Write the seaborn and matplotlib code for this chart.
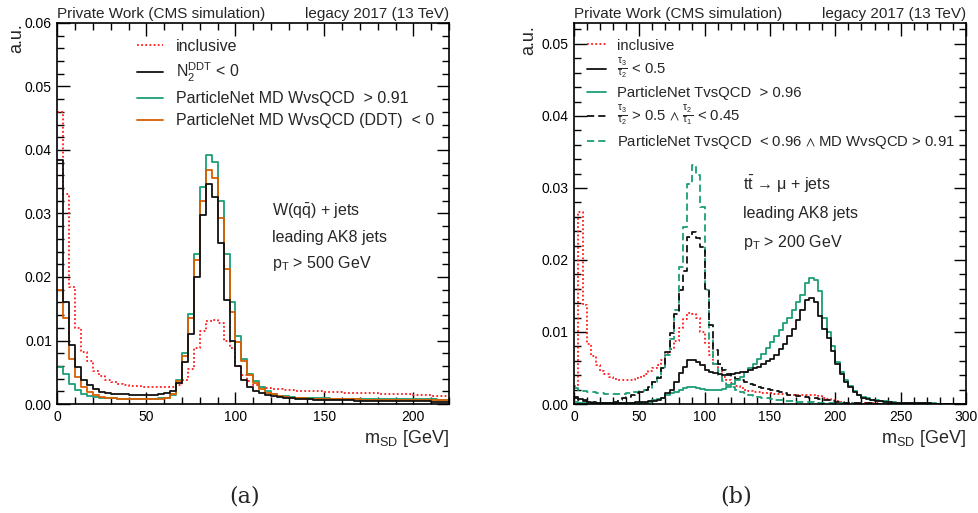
import numpy as np
import pandas as pd
import matplotlib
matplotlib.use("Agg")
import matplotlib.pyplot as plt
import seaborn as sns
from matplotlib.ticker import MultipleLocator, FormatStrFormatter

# ---------------- data (normalised bin contents, units of 1e-2) ----------------
# panel (a): W(qq) + jets, 66 bins of 10/3 GeV from 0 to 220 GeV
inclusive_a = [4.60, 3.30, 1.85, 1.20, 0.82, 0.68, 0.52, 0.44, 0.38, 0.34,
               0.32, 0.30, 0.29, 0.28, 0.27, 0.27, 0.26, 0.26, 0.26, 0.27,
               0.30, 0.38, 0.55, 0.88, 1.15, 1.30, 1.33, 1.28, 1.00, 0.88,
               0.60, 0.45, 0.36, 0.30, 0.27, 0.25, 0.24, 0.23, 0.22, 0.22,
               0.21, 0.21, 0.20, 0.20, 0.20, 0.19, 0.19, 0.19, 0.18, 0.18,
               0.18, 0.17, 0.17, 0.17, 0.16, 0.16, 0.16, 0.15, 0.15, 0.15,
               0.14, 0.14, 0.14, 0.13, 0.13, 0.13]
n2ddt_a = [3.84, 1.60, 0.93, 0.58, 0.38, 0.30, 0.23, 0.19, 0.17, 0.16,
           0.15, 0.15, 0.14, 0.14, 0.14, 0.14, 0.14, 0.15, 0.17, 0.21,
           0.33, 0.66, 1.10, 2.00, 2.97, 3.47, 3.26, 2.53, 1.64, 1.00,
           0.60, 0.38, 0.27, 0.21, 0.17, 0.14, 0.12, 0.11, 0.10, 0.09,
           0.085, 0.08, 0.075, 0.07, 0.07, 0.065, 0.065, 0.06, 0.06, 0.06,
           0.055, 0.055, 0.05, 0.05, 0.05, 0.05, 0.045, 0.045, 0.045, 0.04,
           0.04, 0.04, 0.04, 0.035, 0.035, 0.035]
pnmd_a = [0.58, 0.48, 0.32, 0.22, 0.16, 0.13, 0.11, 0.10, 0.09, 0.09,
          0.085, 0.08, 0.08, 0.08, 0.08, 0.08, 0.085, 0.09, 0.10, 0.14,
          0.38, 0.80, 1.42, 2.37, 3.41, 3.92, 3.81, 3.20, 2.36, 1.60,
          1.07, 0.71, 0.48, 0.36, 0.26, 0.20, 0.16, 0.13, 0.12, 0.11,
          0.10, 0.095, 0.09, 0.09, 0.09, 0.088, 0.086, 0.085, 0.084, 0.083,
          0.082, 0.081, 0.08, 0.08, 0.079, 0.078, 0.077, 0.076, 0.075, 0.075,
          0.074, 0.073, 0.072, 0.071, 0.07, 0.07]
pnddt_a = [1.79, 1.36, 0.71, 0.42, 0.27, 0.19, 0.14, 0.11, 0.10, 0.09,
           0.085, 0.08, 0.08, 0.075, 0.075, 0.075, 0.08, 0.085, 0.10, 0.16,
           0.36, 0.75, 1.35, 2.26, 3.20, 3.68, 3.56, 2.93, 2.13, 1.45,
           0.97, 0.67, 0.45, 0.33, 0.24, 0.18, 0.15, 0.13, 0.11, 0.10,
           0.095, 0.09, 0.085, 0.085, 0.08, 0.08, 0.078, 0.076, 0.075, 0.074,
           0.072, 0.07, 0.07, 0.068, 0.067, 0.066, 0.065, 0.064, 0.063, 0.062,
           0.061, 0.06, 0.06, 0.059, 0.058, 0.057]

# panel (b): ttbar -> mu + jets, 90 bins of 10/3 GeV from 0 to 300 GeV
inclusive_b = [0.25, 2.67, 1.37, 0.84, 0.66, 0.54, 0.46, 0.41, 0.37, 0.35,
               0.34, 0.33, 0.33, 0.34, 0.36, 0.38, 0.42, 0.46, 0.50, 0.54,
               0.61, 0.70, 0.77, 0.87, 1.05, 1.18, 1.26, 1.25, 1.20, 1.00,
               0.85, 0.68, 0.55, 0.46, 0.38, 0.33, 0.29, 0.25, 0.22, 0.20,
               0.18, 0.17, 0.16, 0.155, 0.15, 0.15, 0.145, 0.14, 0.135, 0.13,
               0.125, 0.12, 0.12, 0.125, 0.125, 0.12, 0.11, 0.09, 0.07, 0.05,
               0.04, 0.03, 0.02, 0.015, 0.012, 0.01, 0.01, 0.008, 0.008, 0.007,
               0.006, 0.006, 0.005, 0.005, 0.005, 0.004, 0.004, 0.004, 0.003, 0.003,
               0.003, 0.003, 0.002, 0.002, 0.002, 0.002, 0.002, 0.002, 0.001, 0.001]
tau32_b = [0.10, 0.07, 0.05, 0.03, 0.02, 0.015, 0.012, 0.01, 0.01, 0.01,
           0.012, 0.013, 0.015, 0.018, 0.022, 0.025, 0.03, 0.035, 0.045, 0.06,
           0.08, 0.15, 0.20, 0.30, 0.43, 0.52, 0.61, 0.61, 0.59, 0.54,
           0.47, 0.44, 0.43, 0.41, 0.40, 0.40, 0.42, 0.43, 0.44, 0.45,
           0.47, 0.50, 0.52, 0.56, 0.60, 0.63, 0.68, 0.76, 0.84, 0.94,
           1.04, 1.17, 1.31, 1.44, 1.47, 1.42, 1.22, 1.04, 0.92, 0.74,
           0.55, 0.42, 0.31, 0.23, 0.16, 0.12, 0.09, 0.07, 0.05, 0.04,
           0.035, 0.03, 0.025, 0.02, 0.018, 0.015, 0.013, 0.012, 0.01, 0.009,
           0.008, 0.007, 0.006, 0.006, 0.005, 0.005, 0.004, 0.004, 0.003, 0.003]
pntop_b = [0.03, 0.02, 0.015, 0.01, 0.008, 0.008, 0.008, 0.008, 0.008, 0.008,
           0.008, 0.008, 0.008, 0.008, 0.01, 0.012, 0.02, 0.03, 0.05, 0.07,
           0.09, 0.12, 0.15, 0.17, 0.20, 0.22, 0.23, 0.23, 0.22, 0.21,
           0.20, 0.19, 0.19, 0.19, 0.21, 0.24, 0.28, 0.33, 0.38, 0.44,
           0.50, 0.56, 0.63, 0.70, 0.78, 0.86, 0.94, 1.03, 1.12, 1.20,
           1.31, 1.42, 1.51, 1.68, 1.75, 1.72, 1.57, 1.20, 1.00, 0.80,
           0.58, 0.45, 0.33, 0.25, 0.18, 0.13, 0.10, 0.08, 0.06, 0.05,
           0.04, 0.035, 0.03, 0.025, 0.02, 0.018, 0.015, 0.013, 0.012, 0.01,
           0.009, 0.008, 0.007, 0.006, 0.006, 0.005, 0.005, 0.004, 0.004, 0.003]
tau21_b = [0.08, 0.06, 0.04, 0.03, 0.025, 0.02, 0.02, 0.02, 0.025, 0.03,
           0.06, 0.08, 0.10, 0.12, 0.15, 0.17, 0.20, 0.24, 0.30, 0.36,
           0.50, 0.72, 0.98, 1.25, 1.58, 1.85, 2.32, 2.39, 2.30, 2.18,
           1.60, 1.10, 0.75, 0.55, 0.47, 0.42, 0.38, 0.35, 0.33, 0.30,
           0.28, 0.26, 0.24, 0.22, 0.21, 0.19, 0.18, 0.16, 0.15, 0.13,
           0.12, 0.11, 0.105, 0.10, 0.09, 0.08, 0.07, 0.06, 0.05, 0.04,
           0.03, 0.025, 0.02, 0.015, 0.012, 0.01, 0.009, 0.008, 0.007, 0.006,
           0.005, 0.005, 0.004, 0.004, 0.004, 0.003, 0.003, 0.003, 0.003, 0.002,
           0.002, 0.002, 0.002, 0.002, 0.001, 0.001, 0.001, 0.001, 0.001, 0.001]
pnw_b = [0.22, 0.20, 0.18, 0.17, 0.16, 0.15, 0.15, 0.14, 0.14, 0.14,
         0.14, 0.14, 0.15, 0.16, 0.17, 0.18, 0.20, 0.22, 0.30, 0.38,
         0.50, 0.68, 0.90, 1.30, 1.90, 2.46, 3.06, 3.32, 3.18, 2.74,
         1.58, 0.90, 0.55, 0.40, 0.32, 0.26, 0.23, 0.20, 0.17, 0.15,
         0.13, 0.115, 0.10, 0.09, 0.08, 0.07, 0.062, 0.055, 0.048, 0.042,
         0.038, 0.034, 0.03, 0.028, 0.026, 0.024, 0.02, 0.018, 0.015, 0.012,
         0.01, 0.009, 0.008, 0.007, 0.006, 0.006, 0.005, 0.005, 0.004, 0.004,
         0.004, 0.003, 0.003, 0.003, 0.003, 0.002, 0.002, 0.002, 0.002, 0.002,
         0.002, 0.001, 0.001, 0.001, 0.001, 0.001, 0.001, 0.001, 0.001, 0.001]

labels_a = ["inclusive", r"N$_2^{DDT}$ < 0", "ParticleNet MD WvsQCD  > 0.91",
            "ParticleNet MD WvsQCD (DDT)  < 0"]
labels_b = ["inclusive", r"$\frac{\tau_3}{\tau_2}$ < 0.5", "ParticleNet TvsQCD  > 0.96",
            r"$\frac{\tau_3}{\tau_2}$ > 0.5 $\wedge$ $\frac{\tau_2}{\tau_1}$ < 0.45",
            r"ParticleNet TvsQCD  < 0.96 $\wedge$ MD WvsQCD > 0.91"]

# ---------------- style ----------------
sns.set_style("ticks")
plt.rcParams["font.family"] = ["Liberation Sans", "DejaVu Sans"]
plt.rcParams["mathtext.fontset"] = "custom"
plt.rcParams["mathtext.rm"] = "Liberation Sans"
plt.rcParams["mathtext.it"] = "Liberation Sans:italic"
plt.rcParams["mathtext.bf"] = "Liberation Sans:bold"
plt.rcParams["mathtext.sf"] = "Liberation Sans"
plt.rcParams["mathtext.default"] = "regular"
plt.rcParams["mathtext.fallback"] = "stixsans"

RED = "#ff1a1a"
GREEN = "#1b9e77"
ORANGE = "#d95f02"
BLACK = "#111111"
DOT = (0, (1.0, 1.3))
DASH = (0, (4.0, 2.2))
LW = 1.3

fig = plt.figure(figsize=(9.79, 5.13), dpi=100)
ax_a = fig.add_axes([57.5 / 979, 109 / 513, 391.5 / 979, 381 / 513])
ax_b = fig.add_axes([574 / 979, 109 / 513, 392 / 979, 381 / 513])


def draw(ax, edges, vals, color, ls, label):
    # step outline of a histogram: value of each bin held over [edge_i, edge_i+1)
    y = np.append(np.asarray(vals, dtype=float), vals[-1]) * 1e-2
    df = pd.DataFrame({"m": edges, "w": y})
    sns.lineplot(data=df, x="m", y="w", drawstyle="steps-post", color=color,
                 linestyle=ls, linewidth=LW, ax=ax, estimator=None, sort=False,
                 label=label, legend=False)
    return ax.get_lines()[-1]


edges_a = np.linspace(0, 220, len(inclusive_a) + 1)
edges_b = np.linspace(0, 300, len(inclusive_b) + 1)

h_a = [draw(ax_a, edges_a, inclusive_a, RED, DOT, labels_a[0]),
       draw(ax_a, edges_a, pnmd_a, GREEN, "-", labels_a[2]),
       draw(ax_a, edges_a, pnddt_a, ORANGE, "-", labels_a[3]),
       draw(ax_a, edges_a, n2ddt_a, BLACK, "-", labels_a[1])]
handles_a = [h_a[0], h_a[3], h_a[1], h_a[2]]

h_b = [draw(ax_b, edges_b, inclusive_b, RED, DOT, labels_b[0]),
       draw(ax_b, edges_b, pnw_b, GREEN, DASH, labels_b[4]),
       draw(ax_b, edges_b, tau21_b, BLACK, DASH, labels_b[3]),
       draw(ax_b, edges_b, pntop_b, GREEN, "-", labels_b[2]),
       draw(ax_b, edges_b, tau32_b, BLACK, "-", labels_b[1])]
handles_b = [h_b[0], h_b[4], h_b[3], h_b[2], h_b[1]]

for ax, xmax, ymax in [(ax_a, 220, 0.06), (ax_b, 300, 0.0529)]:
    ax.set_xlim(0, xmax)
    ax.set_ylim(0, ymax)
    ax.xaxis.set_major_locator(MultipleLocator(50))
    ax.xaxis.set_minor_locator(MultipleLocator(10))
    ax.yaxis.set_major_locator(MultipleLocator(0.01))
    ax.yaxis.set_minor_locator(MultipleLocator(0.002))
    ax.yaxis.set_major_formatter(FormatStrFormatter("%.2f"))
    ax.tick_params(which="both", direction="in", top=True, right=True,
                   labelsize=10, width=1.0, colors="black")
    ax.tick_params(which="major", length=9, pad=4)
    ax.tick_params(which="minor", length=5)
    for s in ax.spines.values():
        s.set_linewidth(1.2)
        s.set_color("black")
    ax.set_xlabel(r"m$_{SD}$ [GeV]", loc="right", fontsize=13, labelpad=3)
    ax.set_ylabel("a.u.", loc="top", fontsize=13)
    ax.text(0.0, 1.012, "Private Work (CMS simulation)", transform=ax.transAxes,
            ha="left", va="baseline", fontsize=11)
    ax.text(1.0, 1.012, "legacy 2017 (13 TeV)", transform=ax.transAxes,
            ha="right", va="baseline", fontsize=11)

ax_a.yaxis.set_label_coords(-0.082, 1.0)
ax_b.yaxis.set_label_coords(-0.095, 0.995)

ax_a.legend(handles_a, labels_a, loc="upper left", bbox_to_anchor=(0.204, 0.958),
            frameon=False, fontsize=11.5, handlelength=1.6, handletextpad=0.8,
            labelspacing=0.44, borderpad=0, borderaxespad=0)
ax_b.legend(handles_b, labels_b, loc="upper left", bbox_to_anchor=(0.034, 0.959),
            frameon=False, fontsize=10.7, handlelength=1.25, handletextpad=0.75,
            labelspacing=0.31, borderpad=0, borderaxespad=0)

for i, t in enumerate([r"W(q$\bar{q}$) + jets", "leading AK8 jets", r"p$_T$ > 500 GeV"]):
    ax_a.text(0.547, 0.494 - 0.069 * i, t, transform=ax_a.transAxes,
              ha="left", va="baseline", fontsize=11.5)
for i, t in enumerate([r"t$\bar{t}$ → μ + jets", "leading AK8 jets", r"p$_T$ > 200 GeV"]):
    ax_b.text(0.431, 0.562 - 0.075 * i, t, transform=ax_b.transAxes,
              ha="left", va="baseline", fontsize=11.5)

fig.text(245 / 979, 1 - 497 / 513, "(a)", ha="center", va="center",
         fontsize=16, family="DejaVu Serif")
fig.text(736 / 979, 1 - 497 / 513, "(b)", ha="center", va="center",
         fontsize=16, family="DejaVu Serif")

fig.savefig("out.png", dpi=100)
